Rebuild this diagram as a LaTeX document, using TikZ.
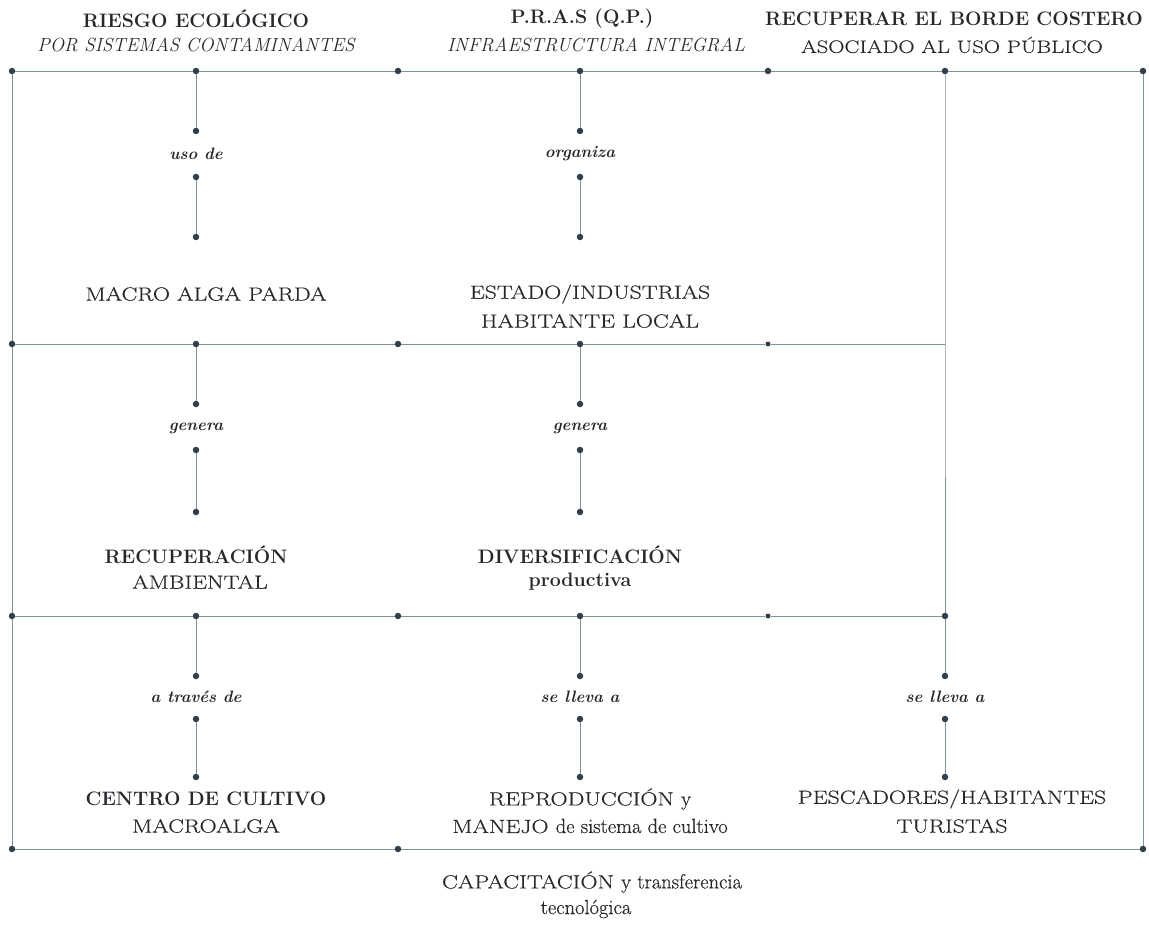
\documentclass[tikz,border=0pt]{standalone}
\usepackage{fontspec}
\setmainfont{Latin Modern Roman}
\newfontfamily\capsf{Latin Modern Roman}[FakeStretch=1.25, FakeBold=0.4]
\newfontfamily\lowf{Latin Modern Roman}[FakeBold=0.4]
\newcommand{\lcw}[1]{{\lowf\fontsize{20.5}{22}\selectfont #1}}
\definecolor{linec}{RGB}{128,146,150}
\definecolor{dotc}{RGB}{48,64,74}
\definecolor{txtc}{RGB}{38,40,44}
\tikzset{
  dot/.style={circle, fill=dotc, inner sep=0pt, minimum size=6.5pt},
  ln/.style={draw=linec, line width=0.9pt},
  ttlb/.style={text=txtc, inner sep=0pt, font=\fontsize{19.5}{22}\selectfont\bfseries},
  ttli/.style={text=txtc, inner sep=0pt, font=\fontsize{19}{22}\selectfont\itshape},
  ttlr/.style={text=txtc, inner sep=0pt, font=\fontsize{18}{22}\selectfont\capsf},
  txt/.style={text=txtc, inner sep=0pt, font=\fontsize{19}{22}\selectfont\capsf},
  txtb/.style={text=txtc, inner sep=0pt, font=\fontsize{19.5}{22}\selectfont\bfseries},
  lbl/.style={text=txtc, inner sep=0pt, font=\fontsize{16.5}{18}\selectfont\bfseries\itshape},
}
\begin{document}
\begin{tikzpicture}[x=1pt,y=-1pt]
\useasboundingbox (0,0) rectangle (1149,933);
% titles
\node[ttlb] (ta1) at (196,19) {RIESGO ECOLÓGICO};
\node[ttli] (ta2) at (196,45) {POR SISTEMAS CONTAMINANTES};
\node[ttlb] (tb1) at (582,19) {P.R.A.S (Q.P.)};
\node[ttli] (tb2) at (596,45) {INFRAESTRUCTURA INTEGRAL};
\node[ttlb] (tc1) at (954,19) {RECUPERAR EL BORDE COSTERO};
\node[ttlr] (tc2) at (952,45) {ASOCIADO AL USO PÚBLICO};
% top line dots
\node[dot] (t1) at (12,71) {};
\node[dot] (t2) at (196,71) {};
\node[dot] (t3) at (398,71) {};
\node[dot] (t4) at (580,71) {};
\node[dot] (t5) at (768,71) {};
\node[dot] (t6) at (945,71) {};
\node[dot] (t7) at (1143,71) {};
% second line
\node[dot] (m1) at (12,344) {};
\node[dot] (m2) at (196,344) {};
\node[dot] (m3) at (398,344) {};
\node[dot] (m4) at (580,344) {};
\node[dot, minimum size=5pt] (m5) at (768,344) {};
\coordinate (m6) at (945,344);
% third line
\node[dot] (r1) at (12,616) {};
\node[dot] (r2) at (196,616) {};
\node[dot] (r3) at (398,616) {};
\node[dot] (r4) at (580,616) {};
\node[dot, minimum size=5pt] (r5) at (768,616) {};
\node[dot] (r6) at (945,616) {};
% bottom line
\node[dot] (b1) at (12,849) {};
\node[dot] (b3) at (398,849) {};
\node[dot] (b7) at (1143,849) {};
% column dots, section 1
\node[dot] (a1) at (196,131) {};
\node[dot] (a2) at (196,177) {};
\node[dot] (a3) at (196,237) {};
\node[dot] (c1) at (580,131) {};
\node[dot] (c2) at (580,177) {};
\node[dot] (c3) at (580,237) {};
% section 2
\node[dot] (a4) at (196,404) {};
\node[dot] (a5) at (196,450) {};
\node[dot] (a6) at (196,512) {};
\node[dot] (c4) at (580,404) {};
\node[dot] (c5) at (580,450) {};
\node[dot] (c6) at (580,512) {};
% section 3
\node[dot] (a7) at (196,676) {};
\node[dot] (a8) at (196,719) {};
\node[dot] (a9) at (196,777) {};
\node[dot] (c7) at (580,676) {};
\node[dot] (c8) at (580,719) {};
\node[dot] (c9) at (580,777) {};
\node[dot] (e7) at (945,676) {};
\node[dot] (e8) at (945,719) {};
\node[dot] (e9) at (945,777) {};
% horizontal lines
\draw[ln] (t1) -- (t2) -- (t3) -- (t4) -- (t5) -- (t6) -- (t7);
\draw[ln] (m1) -- (m2) -- (m3) -- (m4) -- (m5) -- (m6);
\draw[ln] (r1) -- (r2) -- (r3) -- (r4) -- (r5) -- (r6);
\draw[ln] (b1) -- (b3) -- (b7);
% borders
\draw[ln] (t1) -- (m1) -- (r1) -- (b1);
\draw[ln] (t7) -- (b7);
\draw[ln] (t6) -- (m6) -- (r6) -- (e7);
% verticals
\draw[ln] (t2) -- (a1); \draw[ln] (a2) -- (a3);
\draw[ln] (t4) -- (c1); \draw[ln] (c2) -- (c3);
\draw[ln] (m2) -- (a4); \draw[ln] (a5) -- (a6);
\draw[ln] (m4) -- (c4); \draw[ln] (c5) -- (c6);
\draw[ln] (r2) -- (a7); \draw[ln] (a8) -- (a9);
\draw[ln] (r4) -- (c7); \draw[ln] (c8) -- (c9);
\draw[ln] (e8) -- (e9);
% labels
\node[lbl] (l1) at (196,154) {uso de};
\node[lbl] (l2) at (580,154) {organiza};
\node[lbl] (l3) at (196,428) {genera};
\node[lbl] (l4) at (580,428) {genera};
\node[lbl] (l5) at (196,697) {a través de};
\node[lbl] (l6) at (580,697) {se lleva a};
\node[lbl] (l7) at (945,697) {se lleva a};
% texts
\node[txt] (x1) at (206,294) {MACRO ALGA PARDA};
\node[txt] (x2a) at (590,294) {ESTADO/INDUSTRIAS};
\node[txt] (x2b) at (590,321) {HABITANTE LOCAL};
\node[txtb] (x3a) at (196,555) {RECUPERACIÓN};
\node[txt] (x3b) at (200,582) {AMBIENTAL};
\node[txtb] (x4a) at (580,555) {DIVERSIFICACIÓN};
\node[txtb] (x4b) at (580,582) {productiva};
\node[txtb] (x5a) at (206,799) {CENTRO DE CULTIVO};
\node[txt] (x5b) at (206,826) {MACROALGA};
\node[txt] (x6a) at (590,799) {REPRODUCCIÓN \lcw{y}};
\node[txt] (x6b) at (590,826) {MANEJO \lcw{de sistema de cultivo}};
\node[txt] (x7a) at (952,799) {PESCADORES/HABITANTES};
\node[txt] (x7b) at (952,826) {TURISTAS};
\node[txt] (x8a) at (592,882) {CAPACITACIÓN \lcw{y transferencia}};
\node[txt] (x8b) at (586,909) {\lcw{tecnológica}};
\end{tikzpicture}
\end{document}
